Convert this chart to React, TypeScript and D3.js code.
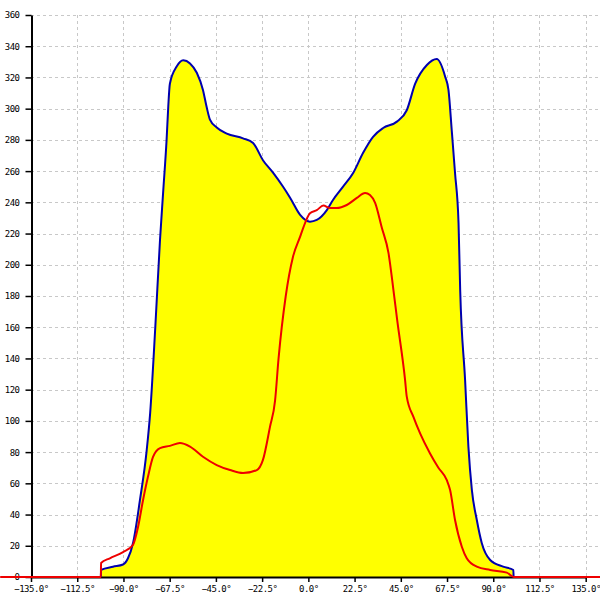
import React, { useEffect, useRef } from "react";
import * as d3 from "d3";

// blue envelope (filled yellow)
const blueAngles = [-101, -100.9, -95.1, -90.2, -87.8, -85.3, -82.0, -78.7, -77.0, -74.5, -72.2, -70.6, -69.0, -68.2, -67.4, -64.1, -60.9, -57.6, -54.3, -51.3, -49.5, -47.9, -44.6, -39.7, -31.8, -26.9, -22.1, -17.2, -12.3, -8.9, -4.0, 0.8, 4.1, 9.0, 12.0, 16.9, 21.8, 26.6, 31.5, 36.4, 43.1, 47.9, 52.0, 57.7, 62.5, 66.6, 68.2, 69.8, 71.4, 73.1, 73.9, 76.3, 77.9, 79.6, 82.0, 84.4, 88.5, 94.8, 99.8, 99.9];
const blueValues = [0, 4.5, 6.6, 8, 12, 22, 49, 81, 105, 160, 216, 248, 280, 301, 316, 327, 331, 329, 323, 312, 301, 293, 288, 284, 281, 278, 267, 259, 250, 243, 232, 227.6, 228.7, 235, 241.5, 250, 258.8, 271.6, 282, 287.6, 291.7, 299, 316, 328, 331.8, 320.5, 312, 286, 258.8, 226.8, 184, 126, 83.5, 55.7, 36.5, 21.8, 10.9, 6.6, 4.5, 0];

// red curve
const redAngles = [-150, -101, -100.9, -96.6, -90.2, -85.4, -82.9, -80.5, -78.1, -75.6, -72.2, -67.4, -62.5, -57.6, -51.3, -44.6, -38.1, -31.8, -25.1, -22.1, -18.7, -16.2, -14.5, -11, -7.5, -4.0, -2.4, 0.8, 4.1, 7.3, 10.6, 13.8, 18.7, 23.6, 27.6, 30.0, 32.5, 35.7, 39.0, 41.4, 43.2, 47.1, 47.9, 51.1, 54.4, 59.3, 63.3, 67.4, 69.0, 71.4, 74.7, 77.1, 82.0, 88.5, 96.6, 100, 150];
const redValues = [0, 0, 9, 12, 16, 20.5, 32, 49, 64, 77, 82.6, 84, 85.8, 83.5, 77, 71.7, 68.5, 66.6, 68.5, 75, 96, 113, 140, 180, 205, 218, 224, 233, 235, 237.9, 236.4, 236.4, 238.3, 242.8, 246, 244.7, 239.6, 224, 207.6, 184, 165, 126, 115.5, 102.7, 92, 79, 70, 62, 55.7, 36.5, 19.4, 12, 6.6, 4.5, 2.8, 0, 0];

const xTicks = [-135, -112.5, -90, -67.5, -45, -22.5, 0, 22.5, 45, 67.5, 90, 112.5, 135];
const yTicks = [0, 20, 40, 60, 80, 100, 120, 140, 160, 180, 200, 220, 240, 260, 280, 300, 320, 340, 360];

const App: React.FC = () => {
    const svgRef = useRef<SVGSVGElement | null>(null);

    useEffect(() => {
        const svg = d3.select(svgRef.current);
        svg.selectAll("*").remove();

        const left = 31, right = 585.7, top = 15, bottom = 577, W = 600;
        const x = d3.scaleLinear().domain([-135, 135]).range([left, right]);
        const y = d3.scaleLinear().domain([0, 360]).range([bottom, top]);
        const font = "'DejaVu Sans Mono', monospace";

        // grid
        const grid = svg.append("g").attr("stroke", "#c8c8c8").attr("stroke-dasharray", "3,3")
            .attr("shape-rendering", "crispEdges");
        yTicks.forEach((t) => {
            grid.append("line").attr("x1", left).attr("x2", W).attr("y1", Math.round(y(t)) + 0.5).attr("y2", Math.round(y(t)) + 0.5);
        });
        xTicks.forEach((t) => {
            grid.append("line").attr("x1", Math.round(x(t)) + 0.5).attr("x2", Math.round(x(t)) + 0.5).attr("y1", top).attr("y2", bottom);
        });

        const blue = blueAngles.map((a, i) => ({ a, v: blueValues[i] }));
        const red = redAngles.map((a, i) => ({ a, v: redValues[i] }));

        const area = d3.area<{ a: number; v: number }>()
            .x((d) => x(d.a)).y0(y(0)).y1((d) => y(d.v)).curve(d3.curveMonotoneX);
        const line = d3.line<{ a: number; v: number }>()
            .x((d) => x(d.a)).y((d) => y(d.v)).curve(d3.curveMonotoneX);

        svg.append("path").datum(blue).attr("fill", "#ffff00").attr("d", area);

        // axes
        const yAxis = svg.append("g").attr("transform", `translate(${left + 0.5},0)`)
            .call(d3.axisLeft(y).tickValues(yTicks).tickSize(6).tickPadding(6).tickSizeOuter(0).tickFormat(d3.format("d")));
        yAxis.select(".domain").attr("stroke", "#000").attr("stroke-width", 2);
        yAxis.selectAll("text").style("font-family", font).style("font-size", "9px")
            .style("letter-spacing", "-0.5px").attr("fill", "#000");

        const xAxis = svg.append("g").attr("transform", `translate(0,${bottom})`)
            .call(d3.axisBottom(x).tickValues(xTicks).tickSize(5).tickPadding(4).tickSizeOuter(0)
                .tickFormat((d) => d3.format(".1f")(d as number) + "°"));
        xAxis.select(".domain").attr("stroke", "#000").attr("stroke-width", 2);
        xAxis.selectAll("text").style("font-family", font).style("font-size", "9px")
            .style("letter-spacing", "-0.5px").attr("fill", "#000");
        xAxis.selectAll(".tick line").attr("stroke-width", 1.5);
        yAxis.selectAll(".tick line").attr("stroke-width", 1.5);

        svg.append("path").datum(blue).attr("fill", "none").attr("stroke", "#0000b0")
            .attr("stroke-width", 2).attr("d", line);
        svg.append("path").datum(red).attr("fill", "none").attr("stroke", "#ee0000")
            .attr("stroke-width", 2).attr("d", line);
    }, []);

    return (
        <div>
            <svg ref={svgRef} width={600} height={600}
                style={{ position: "absolute", left: 0, top: 0, background: "#fff" }}></svg>
        </div>
    );
};

export default App;
